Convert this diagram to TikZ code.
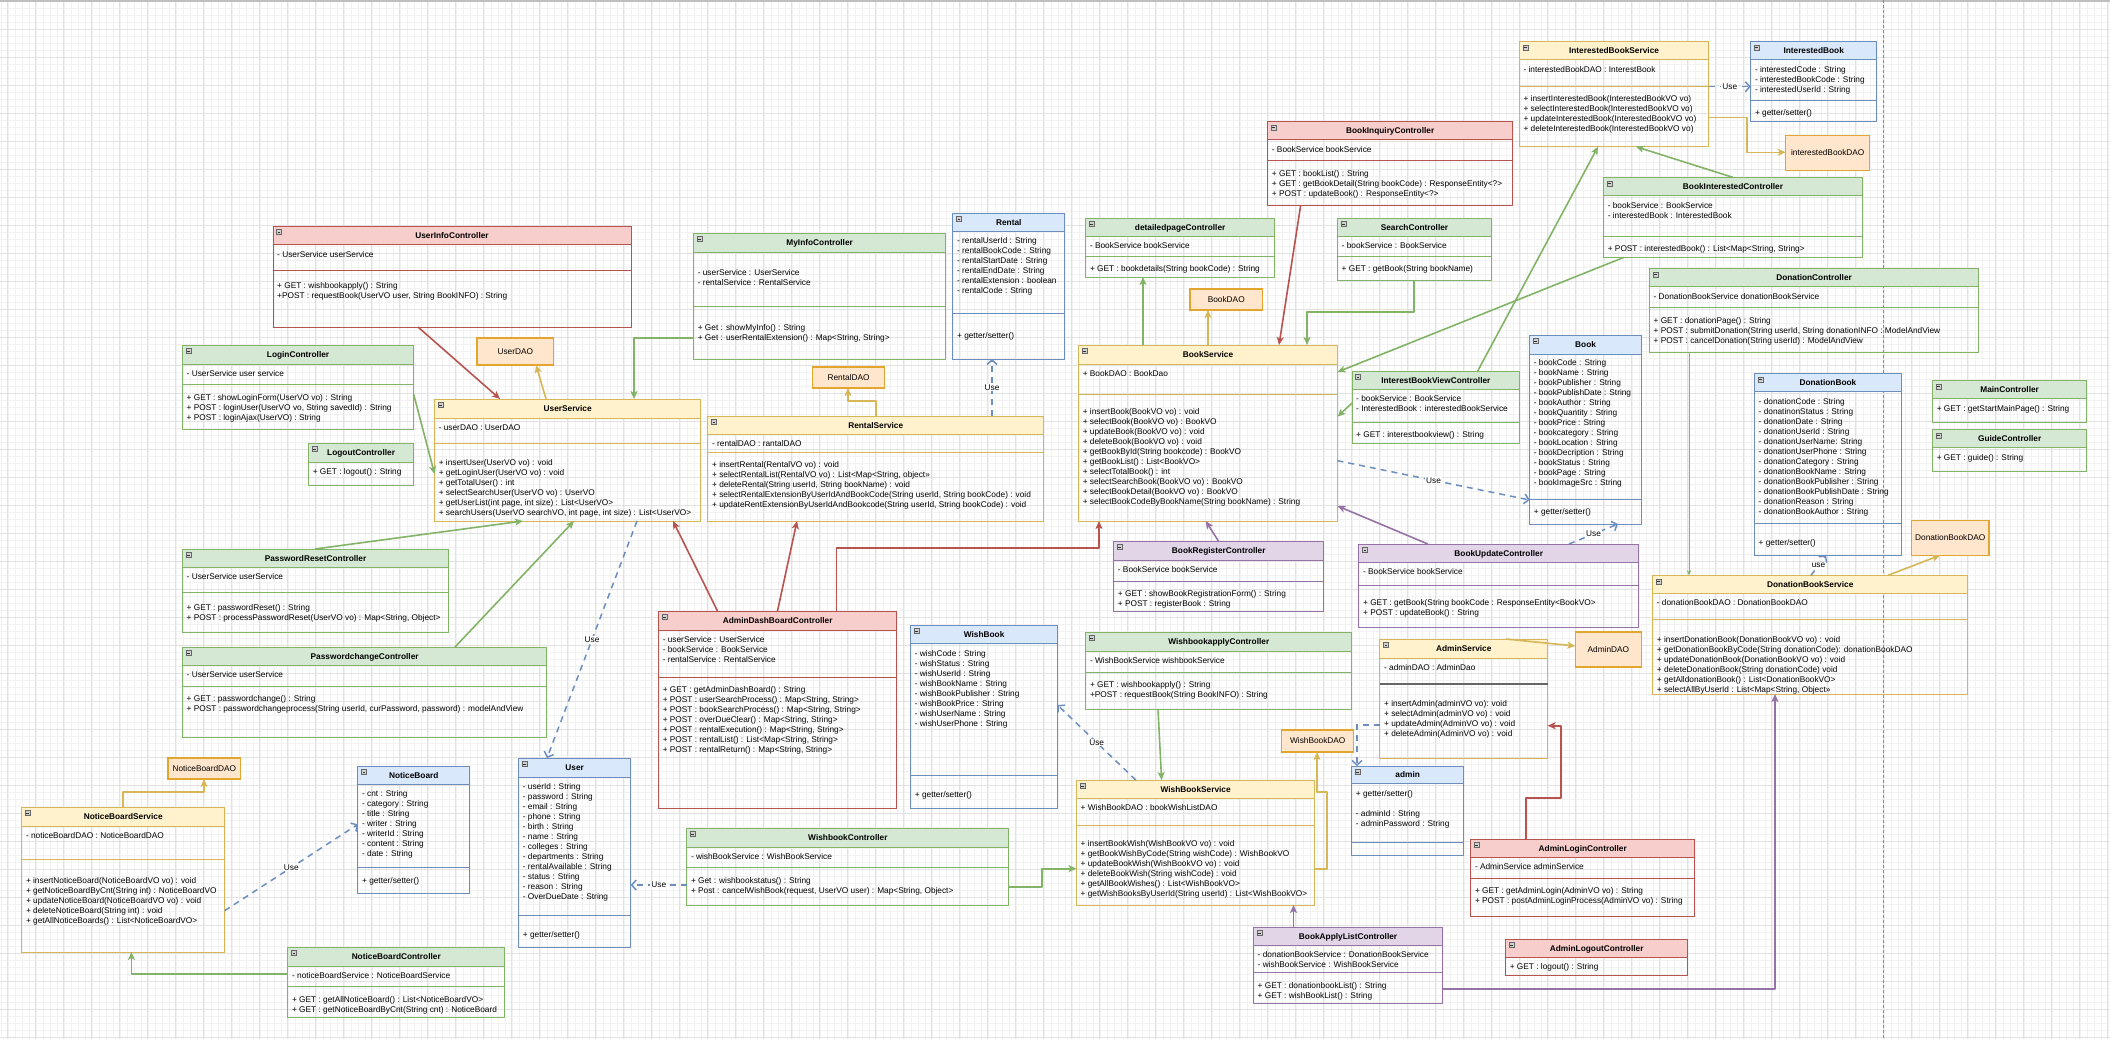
\documentclass[tikz,border=0pt]{standalone}
\usepackage{fontspec}
\setmainfont{Liberation Sans}
\usetikzlibrary{arrows.meta}

% drawio-like palette: F = header fill, L = line colour
\definecolor{redF}{HTML}{F8CECC}\definecolor{redL}{HTML}{B85450}
\definecolor{grnF}{HTML}{D5E8D4}\definecolor{grnL}{HTML}{82B366}
\definecolor{ylwF}{HTML}{FFF2CC}\definecolor{ylwL}{HTML}{D6B656}
\definecolor{bluF}{HTML}{DAE8FC}\definecolor{bluL}{HTML}{6C8EBF}
\definecolor{purF}{HTML}{E1D5E7}\definecolor{purL}{HTML}{9673A6}
\definecolor{orgF}{HTML}{FFE6CC}\definecolor{orgL}{HTML}{E3A52E}
\definecolor{gridmaj}{HTML}{E2E2E2}\definecolor{gridmin}{HTML}{F2F2F2}

\newcommand\umlfont{\fontsize{8.3}{10}\selectfont}

% class box: name, colour, x1, y1, x2, y2, header bottom, title
\newcommand\umlclass[8]{%
  \path[fill=#2F] (#3,#4) rectangle (#5,#7);
  \node[clsbox, draw=#2L, minimum width={(#5)-(#3)}, minimum height={(#6)-(#4)}]
    (#1) at ({((#3)+(#5))/2},{((#4)+(#6))/2}) {};
  \draw[#2L, line width=0.9pt] (#3,#7) -- (#5,#7);
  \node[ttl] (#1-t) at ({((#3)+(#5))/2},{((#4)+(#7))/2}) {#8};
  \draw[icon] ({(#3)+3.5},{(#4)+3.5}) rectangle ++(5,5);
  \draw[iconbar] ({(#3)+4.6},{(#4)+6}) -- ++(2.8,0);
}
% compartment separator: box name, colour, y
\newcommand\umlsep[3]{\draw[#2L, line width=0.9pt] (#1.west |- 0,#3) -- (#1.east |- 0,#3);}
% text block: node name, x, centre of first line, lines
\newcommand\umltext[4]{\node[txt] (#1) at ({#2},{(#3)-4}) {\strut#4};}
% DAO box: name, x1, y1, x2, y2, label
\newcommand\daobox[6]{\node[dao, minimum width={(#4)-(#2)}, minimum height={(#5)-(#3)}]
  (#1) at ({((#2)+(#4))/2},{((#3)+(#5))/2}) {#6};}

\begin{document}
\begin{tikzpicture}[x=1pt, y=-1pt,
  clsbox/.style={draw, line width=0.9pt, inner sep=0pt, outer sep=0pt},
  ttl/.style={font=\umlfont\bfseries, inner sep=0pt, text height=6pt, text depth=0pt},
  txt/.style={font=\umlfont, anchor=north west, align=left, inner sep=0pt},
  dao/.style={draw=orgL, fill=orgF, line width=1.2pt, font=\umlfont, inner sep=0pt, outer sep=0pt},
  icon/.style={draw=black!60, fill=black!18, line width=0.5pt},
  iconbar/.style={draw=black!80, line width=0.9pt},
  con/.style={line width=1.6pt, line join=round, -{Stealth[length=8pt,width=7pt,inset=2pt]}},
  rcon/.style={con, draw=redL},
  gcon/.style={con, draw=grnL},
  ycon/.style={con, draw=ylwL},
  pcon/.style={con, draw=purL},
  gthin/.style={draw=grnL, line width=0.9pt, -{Stealth[length=5pt,width=4.5pt,inset=1.5pt]}},
  dcon/.style={draw=bluL, line width=1.5pt, dash pattern=on 6pt off 5pt,
    -{Straight Barb[length=4.5pt,width=10pt]}},
  lbl/.style={font=\umlfont, fill=white, inner sep=1pt, text=black}]

\useasboundingbox (0,0) rectangle (2110,1039);
\fill[white] (0,0) rectangle (2110,1039);

% background grid
\foreach \k in {0,...,301} {\draw[gridmin, line width=0.5pt] ({0.8+7*\k},0) -- ({0.8+7*\k},1039);}
\foreach \k in {0,...,148} {\draw[gridmin, line width=0.5pt] (0,{1+7*\k}) -- (2110,{1+7*\k});}
\foreach \k in {0,...,75} {\draw[gridmaj, line width=0.7pt] ({7.8+28*\k},0) -- ({7.8+28*\k},1039);}
\foreach \k in {0,...,37} {\draw[gridmaj, line width=0.7pt] (0,{1+28*\k}) -- (2110,{1+28*\k});}
\draw[black!25, line width=1.5pt] (0,0.75) -- (2110,0.75);
% page break guide
\draw[black!45, line width=0.6pt, dash pattern=on 3pt off 2pt] (1883.5,0) -- (1883.5,1039);

% ---------------- user side ----------------
\umlclass{UIC}{red}{273}{226}{631}{327}{244}{UserInfoController}
\umlsep{UIC}{red}{270}
\umltext{UIC-a}{277}{254}{- UserService userService}
\umltext{UIC-m}{277}{285}{+ GET : wishbookapply() : String\\+POST : requestBook(UserVO user, String BookINFO) : String}

\umlclass{LC}{grn}{182.5}{345}{413.6}{429}{364}{LoginController}
\umlsep{LC}{grn}{384}
\umltext{LC-a}{186.5}{373}{- UserService user service}
\umltext{LC-m}{186.5}{397}{+ GET : showLoginForm(UserVO vo) : String\\+ POST : loginUser(UserVO vo, String savedId) : String\\+ POST : loginAjax(UserVO) : String}

\umlclass{LoC}{grn}{308.6}{443}{413.6}{485}{462}{LogoutController}
\umltext{LoC-m}{312.6}{471}{+ GET : logout() : String}

\daobox{UDAO}{477}{338}{553.6}{365}{UserDAO}

\umlclass{US}{ylw}{434.6}{399}{700.7}{521}{418}{UserService}
\umlsep{US}{ylw}{443}
\umltext{US-a}{438.6}{427}{- userDAO : UserDAO}
\umltext{US-m}{438.6}{462}{+ insertUser(UserVO vo) : void\\+ getLoginUser(UserVO vo) : void\\+ getTotalUser() : int\\+ selectSearchUser(UserVO vo) : UserVO\\+ getUserList(int page, int size) : List<UserVO>\\+ searchUsers(UserVO searchVO, int page, int size) : List<UserVO>}

\umlclass{PRC}{grn}{182.5}{549}{448.6}{632}{567}{PasswordResetController}
\umlsep{PRC}{grn}{592}
\umltext{PRC-a}{186.5}{576}{- UserService userService}
\umltext{PRC-m}{186.5}{607}{+ GET :  passwordReset() : String\\+ POST : processPasswordReset(UserVO vo) : Map<String, Object>}

\umlclass{PCC}{grn}{182.5}{647}{546.8}{737}{665}{PasswordchangeController}
\umlsep{PCC}{grn}{686}
\umltext{PCC-a}{186.5}{674}{- UserService userService}
\umltext{PCC-m}{186.5}{698}{+ GET :  passwordchange() : String\\+ POST : passwordchangeprocess(String userId, curPassword, password) : modelAndView}

\daobox{NBDAO}{168}{758}{240.7}{779}{NoticeBoardDAO}

\umlclass{NBS}{ylw}{21.8}{807}{224.6}{952}{826}{NoticeBoardService}
\umlsep{NBS}{ylw}{859}
\umltext{NBS-a}{25.8}{835}{- noticeBoardDAO : NoticeBoardDAO}
\umltext{NBS-m}{25.8}{880}{+ insertNoticeBoard(NoticeBoardVO vo) : void\\+ getNoticeBoardByCnt(String int) : NoticeBoardVO\\+ updateNoticeBoard(NoticeBoardVO vo) : void\\+ deleteNoticeBoard(String int) : void\\+ getAllNoticeBoards() : List<NoticeBoardVO>}

\umlclass{NB}{blu}{357.9}{766}{469.6}{893}{784}{NoticeBoard}
\umlsep{NB}{blu}{867}
\umltext{NB-a}{361.9}{793}{- cnt : String\\- category : String\\- title : String\\- writer : String\\- writerId : String\\- content : String\\- date : String}
\umltext{NB-m}{361.9}{880}{+ getter/setter()}

\umlclass{NBC}{grn}{287.9}{947}{504.6}{1017}{966}{NoticeBoardController}
\umlsep{NBC}{grn}{986}
\umltext{NBC-a}{291.9}{975}{- noticeBoardService : NoticeBoardService}
\umltext{NBC-m}{291.9}{999}{+ GET : getAllNoticeBoard() : List<NoticeBoardVO>\\+ GET : getNoticeBoardByCnt(String cnt) : NoticeBoard}

\umlclass{User}{blu}{518.7}{758}{630.7}{947}{777}{User}
\umlsep{User}{blu}{915}
\umltext{User-a}{522.7}{786}{- userId : String\\- password : String\\- email : String\\- phone : String\\- birth : String\\- name : String\\- colleges : String\\- departments : String\\- rentalAvailable : String\\- status : String\\- reason : String\\- OverDueDate : String}
\umltext{User-m}{522.7}{934}{+ getter/setter()}

% ---------------- rental / admin dashboard ----------------
\umlclass{MIC}{grn}{693.6}{233}{945.7}{359}{252}{MyInfoController}
\umlsep{MIC}{grn}{306}
\umltext{MIC-a}{697.6}{272}{- userService : UserService\\- rentalService : RentalService}
\umltext{MIC-m}{697.6}{327}{+ Get : showMyInfo() : String\\+ Get : userRentalExtension() : Map<String, String>}

\umlclass{Rental}{blu}{952.9}{213}{1064.6}{359}{231}{Rental}
\umlsep{Rental}{blu}{313}
\umltext{Rental-a}{956.9}{240}{- rentalUserId : String\\- rentalBookCode : String\\- rentalStartDate : String\\- rentalEndDate : String\\- rentalExtension : boolean\\- rentalCode : String}
\umltext{Rental-m}{956.9}{335}{+ getter/setter()}

\daobox{RDAO}{812.5}{367}{884.6}{388}{RentalDAO}

\umlclass{RS}{ylw}{707.9}{416}{1043.6}{521}{434}{RentalService}
\umlsep{RS}{ylw}{452}
\umltext{RS-a}{711.9}{443}{- rentalDAO : rantalDAO}
\umltext{RS-m}{711.9}{464}{+ insertRental(RentalVO vo) : void\\+ selectRentalList(RentalVO vo) : List<Map<String, object>>\\+ deleteRental(String userId, String bookName) : void\\+ selectRentalExtensionByUserIdAndBookCode(String userId, String bookCode) : void\\+ updateRentExtensionByUserIdAndBookcode(String userId, String bookCode) : void}

\umlclass{ADC}{red}{658.6}{611}{896.8}{808}{630}{AdminDashBoardController}
\umlsep{ADC}{red}{677}
\umltext{ADC-a}{662.6}{639}{- userService : UserService\\- bookService : BookService\\- rentalService : RentalService}
\umltext{ADC-m}{662.6}{689}{+ GET : getAdminDashBoard() : String\\+ POST : userSearchProcess() : Map<String, String>\\+ POST : bookSearchProcess() : Map<String, String>\\+ POST : overDueClear() : Map<String, String>\\+ POST : rentalExecution() : Map<String, String>\\+ POST : rentalList() : List<Map<String, String>\\+ POST : rentalReturn() : Map<String, String>}

\umlclass{WB}{blu}{910.7}{625}{1057.5}{808}{643}{WishBook}
\umlsep{WB}{blu}{775}
\umltext{WB-a}{914.7}{653}{- wishCode : String\\- wishStatus : String\\- wishUserId : String\\- wishBookName : String\\- wishBookPublisher : String\\- wishBookPrice : String\\- wishUserName : String\\- wishUserPhone : String}
\umltext{WB-m}{914.7}{794}{+ getter/setter()}

\umlclass{WBC}{grn}{686.8}{828}{1008.9}{905}{847}{WishbookController}
\umlsep{WBC}{grn}{867}
\umltext{WBC-a}{690.8}{856}{- wishBookService : WishBookService}
\umltext{WBC-m}{690.8}{880}{+ Get : wishbookstatus() : String\\+ Post : cancelWishBook(request, UserVO user) : Map<String, Object>}

% ---------------- books ----------------
\umlclass{DPC}{grn}{1085.8}{218}{1274.5}{277}{236}{detailedpageController}
\umlsep{DPC}{grn}{256}
\umltext{DPC-a}{1089.8}{245}{- BookService bookService}
\umltext{DPC-m}{1089.8}{268}{+ GET : bookdetails(String bookCode) : String}

\umlclass{SC}{grn}{1337.5}{218}{1491.5}{280}{236}{SearchController}
\umlsep{SC}{grn}{256}
\umltext{SC-a}{1341.5}{245}{- bookService : BookService}
\umltext{SC-m}{1341.5}{268}{+ GET : getBook(String bookName)}

\daobox{BDAO}{1190}{289}{1262.5}{310}{BookDAO}

\umlclass{BS}{ylw}{1078.6}{345}{1337.5}{521}{364}{BookService}
\umlsep{BS}{ylw}{394}
\umltext{BS-a}{1082.6}{373}{+ BookDAO : BookDao}
\umltext{BS-m}{1082.6}{411}{+ insertBook(BookVO  vo) : void\\+ selectBook(BookVO vo) : BookVO\\+ updateBook(BookVO vo) : void\\+ deleteBook(BookVO vo) : void\\+ getBookById(String bookcode) : BookVO\\+ getBookList() : List<BookVO>\\+ selectTotalBook() : int\\+ selectSearchBook(BookVO vo) : BookVO\\+ selectBookDetail(BookVO vo) : BookVO\\+ selectBookCodeByBookName(String bookName) : String}

\umlclass{IBVC}{grn}{1352}{371}{1519.7}{443}{389}{InterestBookViewController}
\umlsep{IBVC}{grn}{422}
\umltext{IBVC-a}{1356}{398}{- bookService : BookService\\- InterestedBook : interestedBookService}
\umltext{IBVC-m}{1356}{434}{+ GET : interestbookview() : String}

\umlclass{Book}{blu}{1529.7}{335}{1641.4}{524}{354}{Book}
\umlsep{Book}{blu}{499}
\umltext{Book-a}{1533.7}{362}{- bookCode : String\\- bookName : String\\- bookPublisher : String\\- bookPublishDate : String\\- bookAuthor : String\\- bookQuantity : String\\- bookPrice : String\\- bookcategory : String\\- bookLocation : String\\- bookDecription : String\\- bookStatus : String\\- bookPage : String\\- bookImageSrc : String}
\umltext{Book-m}{1533.7}{511}{+ getter/setter()}

\umlclass{BRC}{pur}{1113.7}{541}{1323.8}{611}{560}{BookRegisterController}
\umlsep{BRC}{pur}{581}
\umltext{BRC-a}{1117.7}{569}{- BookService bookService}
\umltext{BRC-m}{1117.7}{593}{+ GET : showBookRegistrationForm() : String\\+ POST : registerBook : String}

\umlclass{BUC}{pur}{1358.9}{544}{1638.5}{627}{562}{BookUpdateController}
\umlsep{BUC}{pur}{585}
\umltext{BUC-a}{1362.9}{571}{- BookService bookService}
\umltext{BUC-m}{1362.9}{602}{+ GET : getBook(String bookCode : ResponseEntity<BookVO>\\+ POST : updateBook() : String}

\umlclass{BIQ}{red}{1267.7}{121.3}{1512.7}{205}{139.3}{BookInquiryController}
\umlsep{BIQ}{red}{160.7}
\umltext{BIQ-a}{1271.7}{149}{- BookService bookService}
\umltext{BIQ-m}{1271.7}{173.3}{+ GET : bookList() : String\\+ GET : getBookDetail(String bookCode) : ResponseEntity<?>\\+ POST : updateBook() : ResponseEntity<?>}

% ---------------- wish book / admin ----------------
\umlclass{WAC}{grn}{1085.8}{632}{1351.7}{709}{651}{WishbookapplyController}
\umlsep{WAC}{grn}{672}
\umltext{WAC-a}{1089.8}{660}{- WishBookService wishbookService}
\umltext{WAC-m}{1089.8}{684}{+ GET : wishbookapply() : String\\+POST : requestBook(String BookINFO) : String}

\umlclass{AS}{ylw}{1379.9}{639}{1547.6}{758}{658}{AdminService}
\draw[black!60, line width=1.2pt] (AS.west |- 0,684) -- (AS.east |- 0,684);
\umltext{AS-a}{1383.9}{667}{- adminDAO : AdminDao}
\umltext{AS-m}{1383.9}{703}{+ insertAdmin(adminVO vo): void\\+ selectAdmin(adminVO vo) : void\\+ updateAdmin(AdminVO vo) : void\\+ deleteAdmin(AdminVO vo) : void}

\daobox{ADAO}{1575.3}{632}{1641.4}{667}{AdminDAO}
\daobox{WBDAO}{1281.8}{730}{1353.7}{752}{WishBookDAO}

\umlclass{admin}{blu}{1351.7}{766}{1463.6}{855}{783}{admin}
\umlsep{admin}{blu}{842}
\umltext{admin-a}{1355.7}{793}{+ getter/setter()\\\strut\\- adminId : String\\- adminPassword : String}

\umlclass{WBS}{ylw}{1076.5}{780}{1314.8}{905}{798}{WishBookService}
\umlsep{WBS}{ylw}{825}
\umltext{WBS-a}{1080.5}{807}{+ WishBookDAO : bookWishListDAO}
\umltext{WBS-m}{1080.5}{843}{+ insertBookWish(WishBookVO vo) : void\\+ getBookWishByCode(String wishCode) : WishBookVO\\+ updateBookWish(WishBookVO vo) : void\\+ deleteBookWish(String wishCode) : void\\+ getAllBookWishes() : List<WishBookVO>\\+ getWishBooksByUserId(String userId) : List<WishBookVO>}

\umlclass{ALC}{red}{1470.8}{839}{1694.7}{916}{857}{AdminLoginController}
\umlsep{ALC}{red}{878}
\umltext{ALC-a}{1474.8}{866}{-  AdminService adminService}
\umltext{ALC-m}{1474.8}{890}{+ GET : getAdminLogin(AdminVO vo) :  String\\+ POST : postAdminLoginProcess(AdminVO vo) : String}

\umlclass{ALoC}{red}{1505.6}{939}{1687.8}{975}{957}{AdminLogoutController}
\umltext{ALoC-m}{1509.6}{966}{+ GET : logout() : String}

\umlclass{BALC}{pur}{1253.5}{927}{1442.6}{1003}{945}{BookApplyListController}
\umlsep{BALC}{pur}{972}
\umltext{BALC-a}{1257.5}{954}{- donationBookService : DonationBookService\\- wishBookService : WishBookService}
\umltext{BALC-m}{1257.5}{985}{+ GET : donationbookList() : String\\+ GET : wishBookList() : String}

% ---------------- interested books ----------------
\umlclass{IBS}{ylw}{1519.3}{41.7}{1708.7}{146.7}{59.7}{InterestedBookService}
\umlsep{IBS}{ylw}{86.7}
\umltext{IBS-a}{1523.3}{69.3}{- interestedBookDAO : InterestBook}
\umltext{IBS-m}{1523.3}{98.3}{+ insertInterestedBook(InterestedBookVO vo)\\+ selectInterestedBook(InterestedBookVO vo)\\+ updateInterestedBook(InterestedBookVO vo)\\+ deleteInterestedBook(InterestedBookVO vo)}

\umlclass{IB}{blu}{1750.8}{41.7}{1876.6}{121.3}{59.7}{InterestedBook}
\umlsep{IB}{blu}{100.3}
\umltext{IB-a}{1754.8}{69.3}{- interestedCode : String\\- interestedBookCode : String\\- interestedUserId : String}
\umltext{IB-m}{1754.8}{112.3}{+ getter/setter()}

\daobox{IBDAO}{1785.7}{135.3}{1869.7}{170.3}{interestedBookDAO}

\umlclass{BIC}{grn}{1603.6}{177.3}{1862.4}{257.3}{195.7}{BookInterestedController}
\umlsep{BIC}{grn}{236.3}
\umltext{BIC-a}{1607.6}{205}{- bookService : BookService\\- interestedBook : InterestedBook}
\umltext{BIC-m}{1607.6}{248.3}{+ POST : interestedBook() : List<Map<String, String>}

% ---------------- donation ----------------
\umlclass{DC}{grn}{1649.4}{268.3}{1978.7}{352.3}{286.7}{DonationController}
\umlsep{DC}{grn}{307.7}
\umltext{DC-a}{1653.4}{296}{- DonationBookService donationBookService}
\umltext{DC-m}{1653.4}{320.3}{+ GET :  donationPage() :  String\\+ POST : submitDonation(String userId, String donationINFO : ModelAndView\\+ POST : cancelDonation(String userId) : ModelAndView}

\umlclass{DB}{blu}{1754.5}{373.3}{1901.3}{555.3}{391.7}{DonationBook}
\umlsep{DB}{blu}{523.3}
\umltext{DB-a}{1758.5}{401}{- donationCode : String\\- donatinonStatus : String\\- donationDate : String\\- donationUserId : String\\- donationUserName: String\\- donationUserPhone : String\\- donationCategory : String\\- donationBookName : String\\- donationBookPublisher : String\\- donationBookPublishDate : String\\- donationReason : String\\- donationBookAuthor : String}
\umltext{DB-m}{1758.5}{542.3}{+ getter/setter()}

\umlclass{MC}{grn}{1932.6}{380.3}{2086.7}{422.3}{398.7}{MainController}
\umltext{MC-m}{1936.6}{408.3}{+ GET : getStartMainPage() : String}

\umlclass{GC}{grn}{1932.6}{429.7}{2086.7}{471.3}{447.7}{GuideController}
\umltext{GC-m}{1936.6}{457.3}{+ GET : guide() : String}

\daobox{DBDAO}{1911.5}{520.3}{1988.9}{555.3}{DonationBookDAO}

\umlclass{DBS}{ylw}{1652.7}{575.3}{1967.8}{694}{593.3}{DonationBookService}
\umlsep{DBS}{ylw}{619.3}
\umltext{DBS-a}{1656.7}{602}{- donationBookDAO : DonationBookDAO}
\umltext{DBS-m}{1656.7}{639.3}{+ insertDonationBook(DonationBookVO vo) :  void\\+ getDonationBookByCode(String donationCode):  donationBookDAO\\+ updateDonationBook(DonationBookVO vo) : void\\+ deleteDonationBook(String donationCode) void\\+ getAlldonationBook() : List<DonationBookVO>\\+ selectAllByUserId : List<Map<String, Object>>}

% ---------------- connectors ----------------
\draw[rcon] (UIC.south -| 418,0) -- (US.north -| 500,0);
\draw[ycon] (US.north -| 546,0) -- (UDAO.south -| 536,0);
\draw[gcon] (LC.east |- 0,394) -- (US.west |- 0,474);
\draw[gcon] (PRC.north -| 315,0) -- (US.south -| 523,0);
\draw[gcon] (PCC.north -| 455,0) -- (US.south -| 574,0);
\draw[gcon] (MIC.west |- 0,338) -| (US.north -| 634,0);
\draw[dcon] (US.south -| 637,0) -- node[lbl] (u1) {Use} (User.north -| 547,0);
\draw[rcon] (ADC.north -| 717.5,0) -- (US.south -| 673,0);
\draw[rcon] (ADC.north -| 777.5,0) -- (RS.south -| 797,0);
\draw[rcon] (ADC.north -| 836.4,0) -- ++(0,-63) -| (BS.south -| 1099,0);
\draw[ycon] (RS.north -| 875.7,0) -- ++(0,-15) -| (RDAO.south -| 848,0);
\draw[dcon] (RS.north -| 992,0) -- node[lbl] (u2) {Use} (Rental.south -| 992,0);
\draw[gcon] (BS.north -| 1143,0) -- (DPC.south -| 1143,0);
\draw[ycon] (BS.north -| 1208,0) -- (BDAO.south -| 1208,0);
\draw[rcon] (BIQ.south -| 1300.7,0) -- (BS.north -| 1279,0);
\draw[gcon] (SC.south -| 1414,0) -- ++(0,32) -| (BS.north -| 1307,0);
\draw[gcon] (IBVC.west |- 0,403) -- (BS.east |- 0,416.7);
\draw[gcon] (IBVC.north -| 1477.7,0) -- (IBS.south -| 1598,0);
\draw[gcon] (BIC.south -| 1624,0) -- (BS.east |- 0,372);
\draw[gcon] (BIC.north -| 1732.7,0) -- (IBS.south -| 1636,0);
\draw[dcon] (IBS.east |- 0,86.7) -- node[lbl] (u3) {Use} (IB.west |- 0,86.7);
\draw[ycon] (IBS.east |- 0,117.3) -- ++(38,0) |- (IBDAO.west |- 0,152.3);
\draw[dcon] (BS.east |- 0,460.7) -- node[lbl] (u4) {Use} (Book.west |- 0,500);
\draw[pcon] (BRC.north -| 1218.4,0) -- (BS.south -| 1205.7,0);
\draw[pcon] (BUC.north -| 1427.8,0) -- (BS.east |- 0,506);
\draw[dcon] (BUC.north -| 1569,0) -- node[lbl] (u5) {Use} (Book.south -| 1618,0);
\draw[gthin] (DC.south -| 1689,0) -- (DBS.north -| 1689,0);
\draw[dcon] (DBS.north -| 1811,0) -- node[lbl] (u6) {use} (DB.south -| 1826,0);
\draw[ycon] (DBS.north -| 1888,0) -- (DBDAO.south -| 1940,0);
\draw[gcon] (WAC.south -| 1158,0) -- (WBS.north -| 1161.6,0);
\draw[dcon] (WBS.north -| 1135.8,0) -- node[lbl] (u7) {Use} (WB.east |- 0,705);
\draw[gcon] (WBC.east |- 0,886.7) -- ++(33,0) |- (WBS.west |- 0,868.7);
\draw[dcon] (WBC.west |- 0,885) -- node[lbl] (u8) {Use} (User.east |- 0,885);
\draw[ycon] (WBS.east |- 0,869) -- ++(12,0) -- ++(0,-77) -| (WBDAO.south -| 1317,0);
\draw[dcon] (AS.west |- 0,725) -| (admin.north -| 1357,0);
\draw[ycon] (AS.north -| 1506,0) -- (ADAO.west |- 0,646);
\draw[rcon] (ALC.north -| 1526,0) -- ++(0,-41) -- ++(35,0) |- (AS.east |- 0,725.7);
\draw[pcon] (BALC.north -| 1293.5,0) -- (WBS.south -| 1293.5,0);
\draw[pcon] (BALC.east |- 0,989) -| (DBS.south -| 1775,0);
\draw[ycon] (NBS.north -| 123,0) -- ++(0,-15) -| (NBDAO.south -| 204,0);
\draw[gcon] (NBC.west |- 0,974) -| (NBS.south -| 131.4,0);
\draw[dcon] (NBS.east |- 0,910.7) -- node[lbl] (u9) {Use} (NB.west |- 0,824.3);

\end{tikzpicture}
\end{document}
